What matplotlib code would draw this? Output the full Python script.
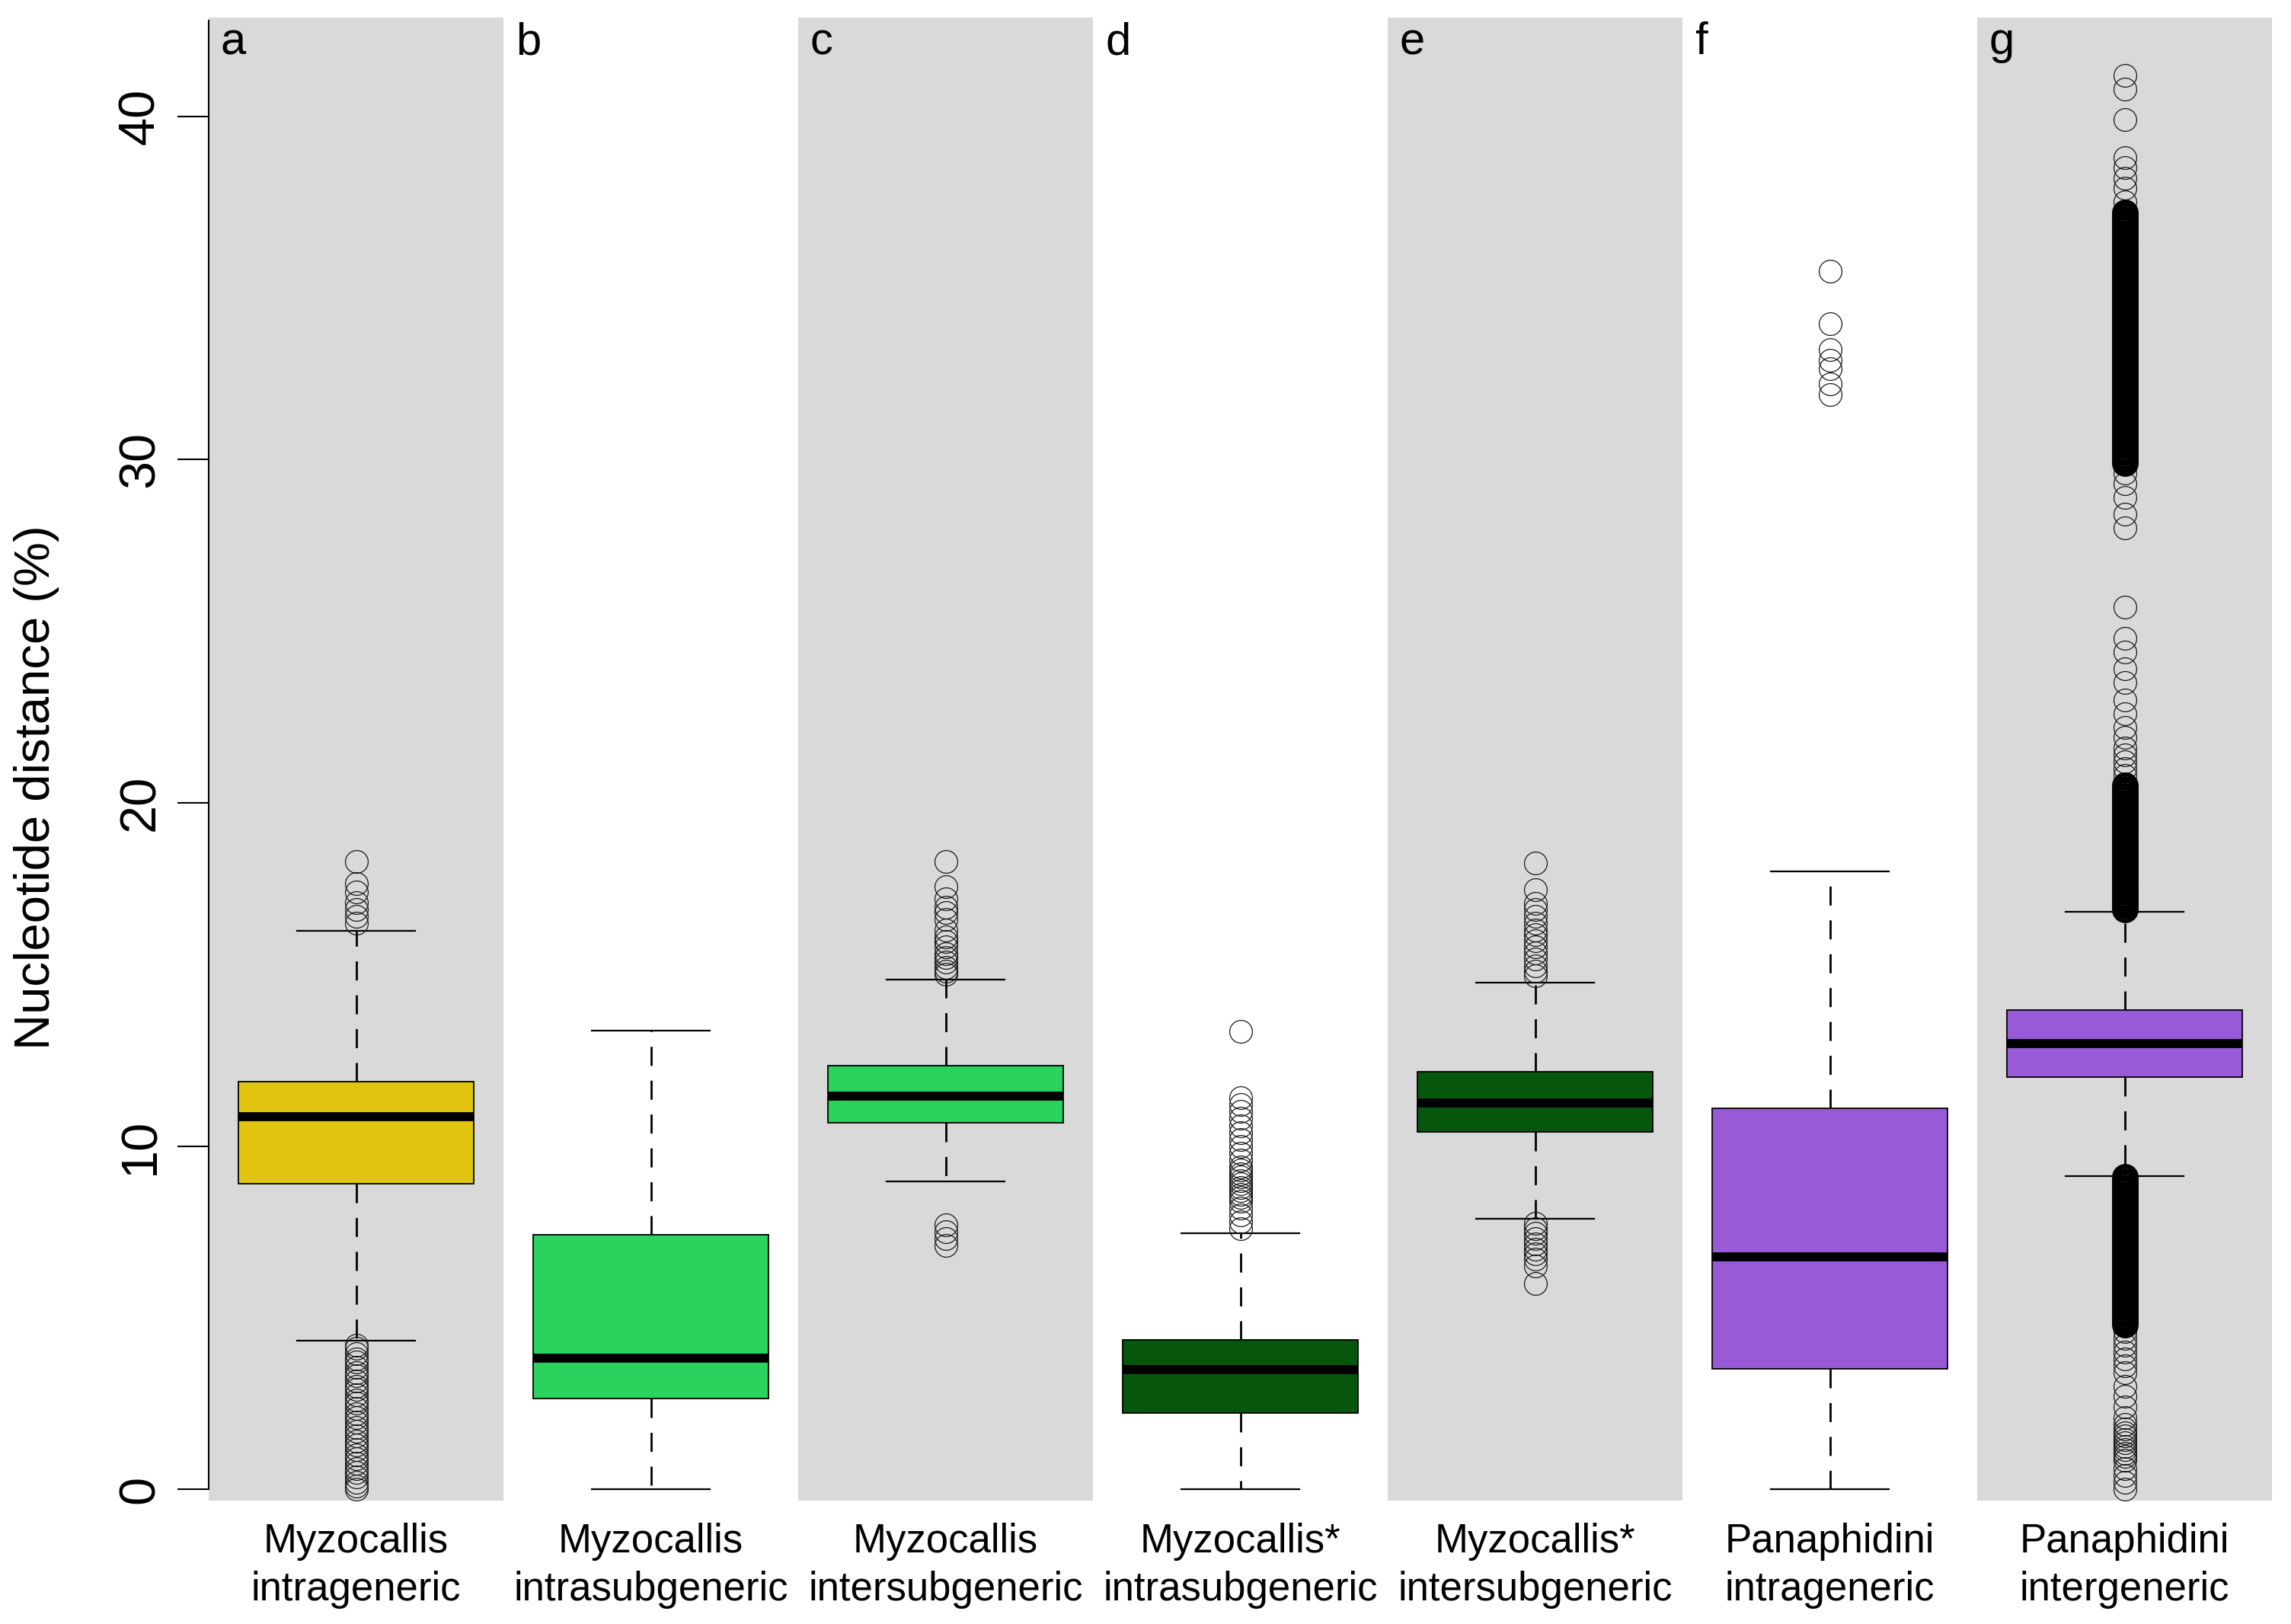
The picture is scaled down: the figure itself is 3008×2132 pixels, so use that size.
import matplotlib
matplotlib.use("Agg")
import matplotlib.pyplot as plt
import matplotlib.transforms as mtransforms

plt.rcParams['font.family'] = ['Liberation Sans', 'DejaVu Sans']

# ---------------- data ----------------
panel_letters = ["a", "b", "c", "d", "e", "f", "g"]
label_line1 = ["Myzocallis", "Myzocallis", "Myzocallis", "Myzocallis*",
               "Myzocallis*", "Panaphidini", "Panaphidini"]
label_line2 = ["intrageneric", "intrasubgeneric", "intersubgeneric",
               "intrasubgeneric", "intersubgeneric", "intrageneric", "intergeneric"]

q1_vals = [8.9, 2.64, 10.68, 2.22, 10.42, 3.5, 12.0]
median_vals = [10.85, 3.83, 11.45, 3.48, 11.25, 6.77, 12.98]
q3_vals = [11.87, 7.42, 12.34, 4.35, 12.17, 11.1, 13.96]
whisker_low = [4.33, 0.0, 8.98, 0.0, 7.88, 0.0, 9.12]
whisker_high = [16.28, 13.36, 14.86, 7.45, 14.76, 18.0, 16.82]

box_colors = ["#E0C40F", "#2BD35E", "#2BD35E", "#06570D", "#06570D", "#985AD7", "#985AD7"]

fliers_a = [16.5, 16.7, 16.9, 17.1, 17.4, 17.65, 18.3,
            4.2, 4.1, 3.95, 3.8, 3.7, 3.55, 3.4, 3.3, 3.15, 3.0, 2.9, 2.75,
            2.6, 2.5, 2.35, 2.2, 2.1, 1.95, 1.8, 1.7, 1.55, 1.4, 1.3, 1.15,
            1.0, 0.9, 0.75, 0.6, 0.5, 0.35, 0.2, 0.1, 0.0]
fliers_b = []
fliers_c = [15.0, 15.1, 15.2, 15.35, 15.5, 15.6, 15.8, 15.95, 16.1, 16.3,
            16.6, 16.8, 16.95, 17.2, 17.55, 18.3,
            7.7, 7.5, 7.3, 7.1]
fliers_d = [7.6, 7.8, 8.0, 8.2, 8.4, 8.5, 8.6, 8.7, 8.8, 8.9, 9.0, 9.1, 9.2,
            9.3, 9.4, 9.6, 9.8, 10.0, 10.2, 10.4, 10.6, 10.8, 11.0, 11.2,
            11.4, 13.35]
fliers_e = [14.95, 15.1, 15.25, 15.45, 15.63, 15.8, 15.98, 16.15, 16.3,
            16.5, 16.7, 16.9, 17.07, 17.47, 18.25,
            7.75, 7.6, 7.45, 7.3, 7.15, 7.0, 6.85, 6.7, 6.5, 6.0]
fliers_f = [31.9, 32.2, 32.65, 32.9, 33.2, 33.96, 35.5]

# g: sparse outliers
fliers_g_sparse = [20.8, 21.0, 21.2, 21.4, 21.6, 21.9, 22.2, 22.6, 23.0, 23.5,
                   23.9, 24.4, 24.8, 25.7,
                   28.0, 28.4, 28.9, 29.3, 29.6,
                   37.5, 37.9, 38.2, 38.5, 38.8, 39.9, 40.8, 41.2,
                   4.6, 4.4, 4.2, 4.0, 3.8, 3.6, 3.4,
                   3.0, 2.7, 2.4, 2.1, 1.9, 1.75, 1.65, 1.55, 1.45, 1.35, 1.25,
                   1.15, 1.05, 0.95, 0.85, 0.6, 0.4, 0.2, 0.0]
# g: very dense runs of outliers (drawn as solid black columns in the original)
fliers_g_dense = [16.9, 17.0, 17.1, 17.2, 17.3, 17.4, 17.5, 17.6, 17.7, 17.8,
                  17.9, 18.0, 18.1, 18.2, 18.3, 18.4, 18.5, 18.6, 18.7, 18.8,
                  18.9, 19.0, 19.1, 19.2, 19.3, 19.4, 19.5, 19.6, 19.7, 19.8,
                  19.9, 20.0, 20.1, 20.2, 20.3, 20.4, 20.5,
                  29.9, 30.0, 30.1, 30.2, 30.3, 30.4, 30.5, 30.6, 30.7, 30.8,
                  30.9, 31.0, 31.1, 31.2, 31.3, 31.4, 31.5, 31.6, 31.7, 31.8,
                  31.9, 32.0, 32.1, 32.2, 32.3, 32.4, 32.5, 32.6, 32.7, 32.8,
                  32.9, 33.0, 33.1, 33.2, 33.3, 33.4, 33.5, 33.6, 33.7, 33.8,
                  33.9, 34.0, 34.1, 34.2, 34.3, 34.4, 34.5, 34.6, 34.7, 34.8,
                  34.9, 35.0, 35.1, 35.2, 35.3, 35.4, 35.5, 35.6, 35.7, 35.8,
                  35.9, 36.0, 36.1, 36.2, 36.3, 36.4, 36.5, 36.6, 36.7, 36.8,
                  36.9, 37.0, 37.1, 37.2,
                  9.1, 9.0, 8.9, 8.8, 8.7, 8.6, 8.5, 8.4, 8.3, 8.2, 8.1, 8.0,
                  7.9, 7.8, 7.7, 7.6, 7.5, 7.4, 7.3, 7.2, 7.1, 7.0, 6.9, 6.8,
                  6.7, 6.6, 6.5, 6.4, 6.3, 6.2, 6.1, 6.0, 5.9, 5.8, 5.7, 5.6,
                  5.5, 5.4, 5.3, 5.2, 5.1, 5.0, 4.9, 4.8]

fliers_sparse = [fliers_a, fliers_b, fliers_c, fliers_d, fliers_e, fliers_f, fliers_g_sparse]
fliers_dense = [[], [], [], [], [], [], fliers_g_dense]

y_ticks = [0, 10, 20, 30, 40]
y_label = "Nucleotide distance (%)"

# ---------------- figure ----------------
W, H = 3008, 2132
fig = plt.figure(figsize=(W / 100, H / 100), dpi=100)
left, right, bottom, top = 274, 2983, 1970, 23
ax = fig.add_axes([left / W, 1 - bottom / H, (right - left) / W, (bottom - top) / H])

n = len(panel_letters)
positions = list(range(1, n + 1))
ax.set_xlim(0.5, n + 0.5)
ax.set_ylim(-0.33, 42.88)

# alternating gray panels
for i in positions:
    if i % 2 == 1:
        ax.axvspan(i - 0.5, i + 0.5, color="#D9D9D9", zorder=0, lw=0)

stats = []
for i in range(n):
    stats.append(dict(med=median_vals[i], q1=q1_vals[i], q3=q3_vals[i],
                      whislo=whisker_low[i], whishi=whisker_high[i],
                      fliers=fliers_sparse[i]))

bp = ax.bxp(stats, positions=positions, widths=0.8, capwidths=0.4,
            patch_artist=True, showfliers=True,
            boxprops=dict(edgecolor="black", linewidth=1.3),
            medianprops=dict(color="black", linewidth=8.5, solid_capstyle="butt"),
            whiskerprops=dict(color="black", linewidth=2.0, linestyle=(0, (9.0, 7.0))),
            capprops=dict(color="black", linewidth=1.6),
            flierprops=dict(marker="o", markersize=21.5, markerfacecolor="none",
                            markeredgecolor="#1a1a1a", markeredgewidth=0.9,
                            linestyle="none"))
for patch, c in zip(bp["boxes"], box_colors):
    patch.set_facecolor(c)
    patch.set_zorder(3)
for m in bp["medians"]:
    m.set_zorder(4)

# dense outlier runs: same circles, heavier stroke so that they merge
for pos, vals in zip(positions, fliers_dense):
    if vals:
        ax.plot([pos] * len(vals), vals, linestyle="none", marker="o",
                markersize=21.5, markerfacecolor="none", markeredgecolor="black",
                markeredgewidth=3.6, zorder=2.5)

# axes styling
for s in ["top", "right", "bottom"]:
    ax.spines[s].set_visible(False)
ax.spines["left"].set_linewidth(1.5)
ax.spines["left"].set_bounds(0, 42.8)
ax.set_yticks(y_ticks)
ax.set_yticklabels([str(t) for t in y_ticks])
ax.tick_params(axis="y", length=29.5, width=1.5, labelsize=48, pad=12,
               labelrotation=90)
for lab in ax.get_yticklabels():
    lab.set_verticalalignment("center")
ax.set_xticks([])

fig.text(48 / W, 1 - 1034 / H, y_label, rotation=90, ha="center", va="center",
         fontsize=47)

# panel letters
offset = mtransforms.ScaledTranslation(16 / 100, 0, fig.dpi_scale_trans)
trans_letter = mtransforms.blended_transform_factory(ax.transData, fig.transFigure) + offset
for i, letter in zip(positions, panel_letters):
    ax.text(i - 0.5, 1 - 71 / H, letter, transform=trans_letter, ha="left",
            va="baseline", fontsize=43)

# category labels
trans_lab = mtransforms.blended_transform_factory(ax.transData, fig.transFigure)
for i, l1, l2 in zip(positions, label_line1, label_line2):
    ax.text(i, 1 - 2038 / H, l1, transform=trans_lab, ha="center", va="baseline",
            fontsize=38, clip_on=False)
    ax.text(i, 1 - 2101 / H, l2, transform=trans_lab, ha="center", va="baseline",
            fontsize=38, clip_on=False)

fig.savefig("out.png", dpi=100)
